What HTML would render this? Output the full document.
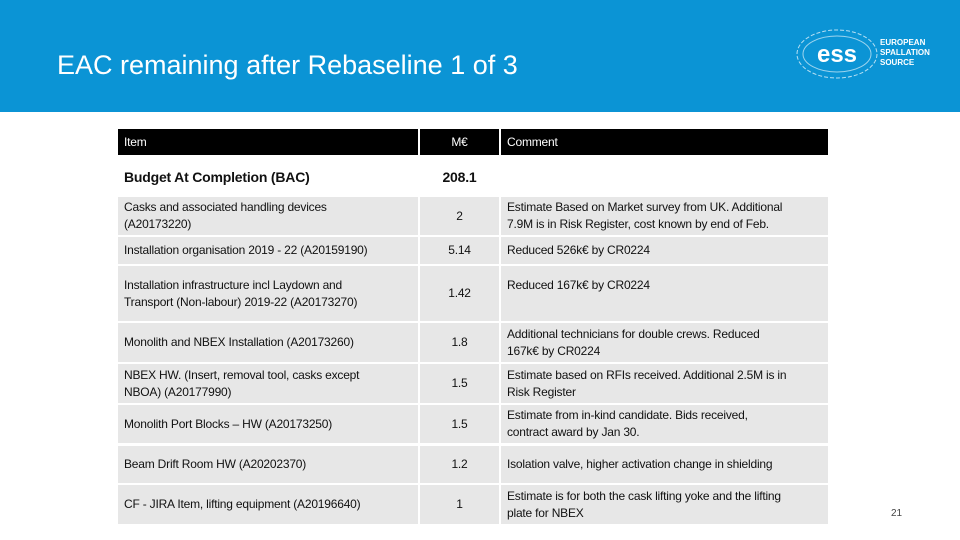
<!DOCTYPE html>
<html><head><meta charset="utf-8"><style>
body{margin:0;width:960px;height:540px;position:relative;background:#fff;font-family:"Liberation Sans",sans-serif;overflow:hidden}
.band{position:absolute;left:0;top:0;width:960px;height:112px;background:#0b94d5}
.title{position:absolute;left:57px;top:50px;color:#fff;font-size:27px;white-space:nowrap}
.c{position:absolute;font-size:12px;color:#111;box-sizing:border-box;padding:0 6px;display:flex;align-items:center;line-height:17px;letter-spacing:-0.2px;white-space:nowrap}
.g{background:#e7e7e7}
.h{background:#000;color:#fff}
.ctr{justify-content:center}
.top{align-items:flex-start;padding-top:4px}
</style></head><body>
<div class="band"></div>
<div class="title">EAC remaining after Rebaseline 1 of 3</div>
<svg style="position:absolute;left:795px;top:22px" width="150" height="65">
<ellipse cx="42" cy="32" rx="40" ry="24" fill="none" stroke="#fff" stroke-width="1" stroke-dasharray="4 2" opacity="0.7"/>
<ellipse cx="42" cy="32" rx="34" ry="18" fill="none" stroke="#fff" stroke-width="1" opacity="0.6"/>
<text x="42" y="40" font-size="24" font-weight="bold" fill="#fff" text-anchor="middle" font-family="Liberation Sans">ess</text>
<text x="85" y="23" font-size="8" font-weight="bold" fill="#fff">EUROPEAN</text>
<text x="85" y="33" font-size="8" font-weight="bold" fill="#fff">SPALLATION</text>
<text x="85" y="43" font-size="8" font-weight="bold" fill="#fff">SOURCE</text>
</svg>
<div>
<div class="c h" style="left:118px;top:129px;width:300px;height:26px">Item</div>
<div class="c h ctr" style="left:420px;top:129px;width:79px;height:26px">M€</div>
<div class="c h" style="left:501px;top:129px;width:327px;height:26px">Comment</div>

<div class="c" style="left:118px;top:160px;width:300px;height:35px;font-size:14px;font-weight:bold">Budget At Completion (BAC)</div>
<div class="c ctr" style="left:420px;top:160px;width:79px;height:35px;font-size:14px;font-weight:bold">208.1</div>

<div class="c g" style="left:118px;top:197px;width:300px;height:38px"><span>Casks and associated handling devices<br>(A20173220)</span></div>
<div class="c g ctr" style="left:420px;top:197px;width:79px;height:38px">2</div>
<div class="c g" style="left:501px;top:197px;width:327px;height:38px"><span>Estimate Based on Market survey from UK. Additional<br>7.9M is in Risk Register, cost known by end of Feb.</span></div>

<div class="c g" style="left:118px;top:237px;width:300px;height:27px">Installation organisation 2019 - 22 (A20159190)</div>
<div class="c g ctr" style="left:420px;top:237px;width:79px;height:27px">5.14</div>
<div class="c g" style="left:501px;top:237px;width:327px;height:27px">Reduced 526k€ by CR0224</div>

<div class="c g" style="left:118px;top:266px;width:300px;height:55px"><span>Installation infrastructure incl Laydown and<br>Transport (Non-labour) 2019-22 (A20173270)</span></div>
<div class="c g ctr" style="left:420px;top:266px;width:79px;height:55px">1.42</div>
<div class="c g top" style="left:501px;top:266px;width:327px;height:55px;padding-top:11px">Reduced 167k€ by CR0224</div>

<div class="c g" style="left:118px;top:323px;width:300px;height:39px">Monolith and NBEX Installation (A20173260)</div>
<div class="c g ctr" style="left:420px;top:323px;width:79px;height:39px">1.8</div>
<div class="c g" style="left:501px;top:323px;width:327px;height:39px"><span>Additional technicians for double crews. Reduced<br>167k€ by CR0224</span></div>

<div class="c g" style="left:118px;top:364px;width:300px;height:39px"><span>NBEX HW. (Insert, removal tool, casks except<br>NBOA) (A20177990)</span></div>
<div class="c g ctr" style="left:420px;top:364px;width:79px;height:39px">1.5</div>
<div class="c g" style="left:501px;top:364px;width:327px;height:39px"><span>Estimate based on RFIs received. Additional 2.5M is in<br>Risk Register</span></div>

<div class="c g" style="left:118px;top:405px;width:300px;height:38px">Monolith Port Blocks – HW (A20173250)</div>
<div class="c g ctr" style="left:420px;top:405px;width:79px;height:38px">1.5</div>
<div class="c g" style="left:501px;top:405px;width:327px;height:38px"><span>Estimate from in-kind candidate. Bids received,<br>contract award by Jan 30.</span></div>

<div class="c g" style="left:118px;top:446px;width:300px;height:37px">Beam Drift Room HW (A20202370)</div>
<div class="c g ctr" style="left:420px;top:446px;width:79px;height:37px">1.2</div>
<div class="c g" style="left:501px;top:446px;width:327px;height:37px">Isolation valve, higher activation change in shielding</div>

<div class="c g" style="left:118px;top:485px;width:300px;height:39px">CF - JIRA Item, lifting equipment (A20196640)</div>
<div class="c g ctr" style="left:420px;top:485px;width:79px;height:39px">1</div>
<div class="c g" style="left:501px;top:485px;width:327px;height:39px"><span>Estimate is for both the cask lifting yoke and the lifting<br>plate for NBEX</span></div>
</div>
<div style="position:absolute;left:891px;top:508px;font-size:10px;color:#444">21</div>
</body></html>
